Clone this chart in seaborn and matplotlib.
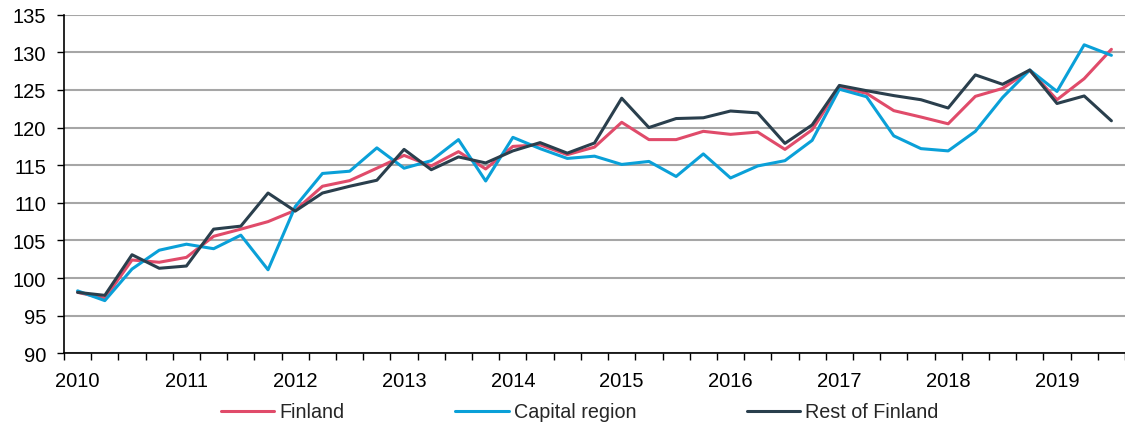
import matplotlib
matplotlib.use("Agg")
import matplotlib.pyplot as plt
import numpy as np
import pandas as pd
import seaborn as sns

# Quarterly index, 2010Q1 .. 2019Q3
years = list(range(2010, 2020))
quarters = [f"{y}Q{q}" for y in years for q in range(1, 5)][:39]

finland = [98.1, 97.3, 102.4, 102.1, 102.75, 105.55, 106.5, 107.5,
           109.0, 112.2, 112.95, 114.6, 116.3, 114.9, 116.8, 114.5,
           117.5, 117.7, 116.4, 117.4, 120.7, 118.4, 118.4, 119.5,
           119.1, 119.4, 117.1, 119.7, 125.35, 124.55, 122.25, 121.4,
           120.5, 124.15, 125.2, 127.6, 123.7, 126.5, 130.4]
capital_region = [98.3, 97.0, 101.2, 103.7, 104.5, 103.9, 105.7, 101.1,
                  109.5, 113.9, 114.2, 117.3, 114.6, 115.6, 118.4, 112.9,
                  118.7, 117.2, 115.9, 116.2, 115.1, 115.5, 113.5, 116.5,
                  113.3, 114.9, 115.6, 118.3, 125.1, 124.1, 118.9, 117.2,
                  116.9, 119.5, 124.0, 127.65, 124.8, 131.0, 129.6]
rest_of_finland = [98.1, 97.7, 103.1, 101.3, 101.6, 106.5, 106.9, 111.3,
                   108.9, 111.3, 112.2, 113.0, 117.1, 114.4, 116.1, 115.3,
                   116.9, 118.0, 116.6, 117.95, 123.9, 120.0, 121.2, 121.3,
                   122.2, 121.95, 117.9, 120.35, 125.6, 124.9, 124.25, 123.7,
                   122.6, 127.0, 125.75, 127.65, 123.2, 124.2, 120.9]

series_names = ["Finland", "Capital region", "Rest of Finland"]
colors = ["#E04B6A", "#0AA0D8", "#2A3F4D"]

df = pd.DataFrame({
    "idx": list(range(len(quarters))) * 3,
    "value": finland + capital_region + rest_of_finland,
    "series": np.repeat(series_names, len(quarters)),
})

sns.set_style("white")
plt.rcParams["font.family"] = ["Liberation Sans", "DejaVu Sans"]

fig = plt.figure(figsize=(11.25, 4.27), dpi=100)
ax = fig.add_axes([64 / 1125, 1 - 354.3 / 427, 1 - 64 / 1125, (354.3 - 15.7) / 427])

sns.lineplot(data=df, x="idx", y="value", hue="series", hue_order=series_names,
             palette=colors, linewidth=2.2, ax=ax, legend=True)

ax.set_ylim(90, 135)
ax.set_yticks(np.arange(90, 136, 5))
ax.set_xlim(-0.5, 38.32)

# Category boundary ticks and year labels at each first quarter
ax.set_xticks(np.arange(-0.5, 38.6, 1.0))
ax.set_xticklabels([])
ax.set_xticks(np.arange(0, 39, 4), minor=True)
ax.set_xticklabels([str(y) for y in years], minor=True)
ax.tick_params(axis="x", which="major", direction="out", length=5, width=1,
               color="black", bottom=True)
ax.tick_params(axis="x", which="minor", length=0, pad=13, labelsize=14.5,
               labelcolor="black")
ax.tick_params(axis="y", direction="out", length=5, width=1, color="black",
               left=True, pad=8, labelsize=14.5, labelcolor="black")

ax.grid(axis="y", color="#A6A6A6", linewidth=1.5)
ax.set_axisbelow(True)
for side in ["top", "right"]:
    ax.spines[side].set_visible(False)
for side in ["left", "bottom"]:
    ax.spines[side].set_color("black")
    ax.spines[side].set_linewidth(1.2)

ax.set_xlabel("")
ax.set_ylabel("")

handles, labels = ax.get_legend_handles_labels()
ax.get_legend().remove()
fig.legend(handles, labels, loc="center", bbox_to_anchor=(580 / 1125, 1 - 413 / 427),
           ncol=3, frameon=False, fontsize=14.2, handlelength=2.7,
           handletextpad=0.27, columnspacing=5.6, borderpad=0, borderaxespad=0)

fig.savefig("out.png", dpi=100)
